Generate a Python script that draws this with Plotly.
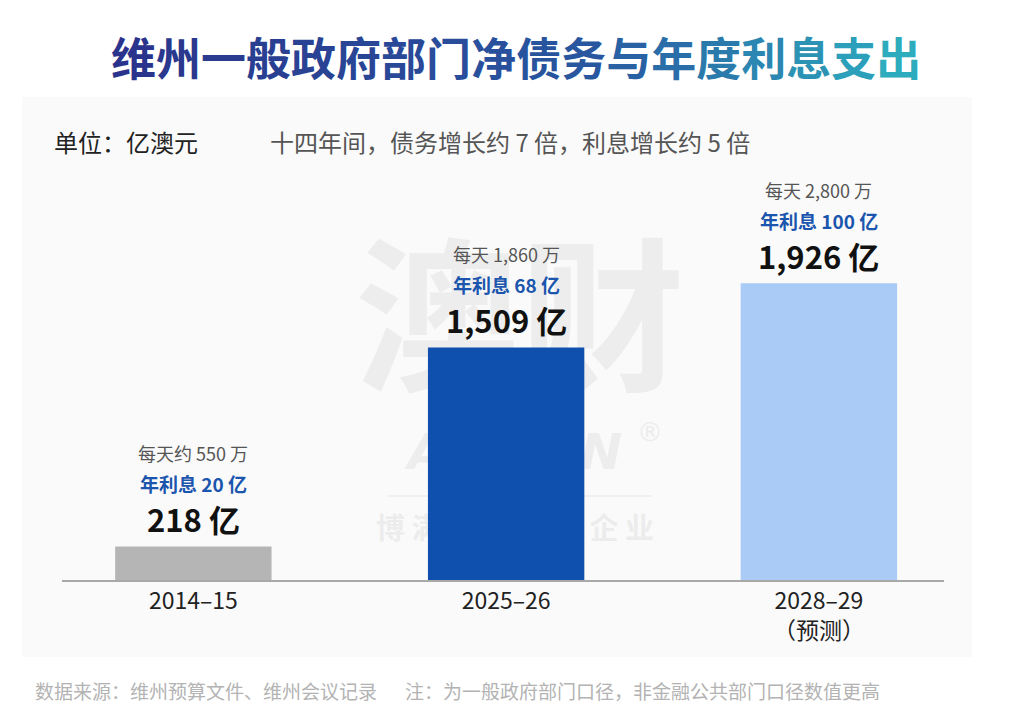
import plotly.graph_objects as go

# ---- data ----
categories = ["2014–15", "2025–26", "2028–29"]
tick_labels = ["2014–15", "2025–26", "2028–29<br>（预测）"]
net_debt = [218, 1509, 1926]          # 亿澳元
debt_labels = ["218 亿", "1,509 亿", "1,926 亿"]
interest_labels = ["年利息 20 亿", "年利息 68 亿", "年利息 100 亿"]
daily_labels = ["每天约 550 万", "每天 1,860 万", "每天 2,800 万"]
bar_colors = ["#b5b5b5", "#0f4fae", "#aacbf6"]

title_text = "维州一般政府部门净债务与年度利息支出"
unit_text = "单位：亿澳元"
subtitle_text = "十四年间，债务增长约 7 倍，利息增长约 5 倍"
source_text = "数据来源：维州预算文件、维州会议记录"
note_text = "注：为一般政府部门口径，非金融公共部门口径数值更高"

W, H = 1024, 727
L, R, T, B = 62, 944, 170, 580  # plot area in pixels
FONT = "Noto Sans CJK SC"


def px(x):
    return (x - L) / (R - L)


def py(y):
    return (B - y) / (B - T)


def grad_title(text):
    stops = [(0.0, (42, 52, 140)), (0.6, (40, 88, 160)), (1.0, (45, 172, 190))]
    out = []
    n = len(text)
    for i, ch in enumerate(text):
        t = i / (n - 1)
        for (t0, c0), (t1, c1) in zip(stops[:-1], stops[1:]):
            if t0 <= t <= t1:
                f = (t - t0) / (t1 - t0)
                c = tuple(int(round(a + (b - a) * f)) for a, b in zip(c0, c1))
                break
        out.append(f"<span style='color:rgb{c}'>{ch}</span>")
    return "".join(out)


fig = go.Figure()
fig.add_trace(go.Bar(
    x=categories, y=net_debt, marker=dict(color=bar_colors, line=dict(width=0)),
    width=0.5, hoverinfo="skip",
))

annotations = []
for cat, val, big, blue, gray in zip(categories, net_debt, debt_labels, interest_labels, daily_labels):
    annotations.append(dict(x=cat, y=val, xref="x", yref="y", text=big, showarrow=False,
                            yanchor="middle", yshift=28,
                            font=dict(family=FONT, size=31, color="#111111", weight="bold")))
    annotations.append(dict(x=cat, y=val, xref="x", yref="y", text=blue, showarrow=False,
                            yanchor="middle", yshift=63,
                            font=dict(family=FONT, size=19, color="#1b55ad", weight="bold")))
    annotations.append(dict(x=cat, y=val, xref="x", yref="y", text=gray, showarrow=False,
                            yanchor="middle", yshift=93,
                            font=dict(family=FONT, size=18, color="#555555")))

annotations += [
    dict(x=px(516), y=py(57), xref="paper", yref="paper", text=grad_title(title_text),
         showarrow=False, xanchor="center", yanchor="middle",
         font=dict(family=FONT, size=45, weight="bold")),
    dict(x=px(52), y=py(142), xref="paper", yref="paper", text=unit_text, showarrow=False,
         xanchor="left", yanchor="middle", font=dict(family=FONT, size=24, color="#222222")),
    dict(x=px(268), y=py(142), xref="paper", yref="paper", text=subtitle_text, showarrow=False,
         xanchor="left", yanchor="middle", font=dict(family=FONT, size=24, color="#555555")),
    dict(x=px(33), y=py(690), xref="paper", yref="paper", text=source_text, showarrow=False,
         xanchor="left", yanchor="middle", font=dict(family=FONT, size=19, color="#b3b3b3")),
    dict(x=px(403), y=py(690), xref="paper", yref="paper", text=note_text, showarrow=False,
         xanchor="left", yanchor="middle", font=dict(family=FONT, size=19, color="#b3b3b3")),
]

wm = "rgba(225,225,225,0.55)"
shapes = [
    dict(type="rect", xref="paper", yref="paper", x0=px(22), x1=px(972), y0=py(657), y1=py(97),
         fillcolor="#fafafa", line=dict(width=0), layer="below"),
    dict(type="rect", xref="paper", yref="paper", x0=px(340), x1=px(700), y0=py(420), y1=py(245),
         fillcolor="rgba(0,0,0,0)", line=dict(width=0), layer="below",
         label=dict(text="<b>澳财</b>", font=dict(family=FONT, size=165, color=wm),
                    textposition="middle center")),
    dict(type="rect", xref="paper", yref="paper", x0=px(390), x1=px(640), y0=py(470), y1=py(425),
         fillcolor="rgba(0,0,0,0)", line=dict(width=0), layer="below",
         label=dict(text="<b><i>ALL FIN</i></b>", font=dict(family="DejaVu Sans", size=50, color=wm),
                    textposition="middle center")),
    dict(type="rect", xref="paper", yref="paper", x0=px(635), x1=px(665), y0=py(445), y1=py(415),
         fillcolor="rgba(0,0,0,0)", line=dict(width=0), layer="below",
         label=dict(text="®", font=dict(family="DejaVu Sans", size=26, color=wm),
                    textposition="middle center")),
    dict(type="line", xref="paper", yref="paper", x0=px(387), x1=px(652), y0=py(496), y1=py(496),
         line=dict(width=1.5, color=wm), layer="below"),
    dict(type="rect", xref="paper", yref="paper", x0=px(350), x1=px(680), y0=py(550), y1=py(512),
         fillcolor="rgba(0,0,0,0)", line=dict(width=0), layer="below",
         label=dict(text="<b>博 满 集 团 旗 下 企 业</b>", font=dict(family=FONT, size=29, color=wm),
                    textposition="middle center")),
]

fig.update_layout(
    width=W, height=H,
    margin=dict(l=L, r=W - R, t=T, b=H - B),
    paper_bgcolor="white", plot_bgcolor="rgba(0,0,0,0)",
    showlegend=False,
    annotations=annotations, shapes=shapes,
    xaxis=dict(type="category", range=[-0.42, 2.40], tickvals=categories, ticktext=tick_labels,
               showline=True, linecolor="#a8a8a8", linewidth=1.5, ticks="", showgrid=False,
               tickfont=dict(family=FONT, size=23, color="#222222"), fixedrange=True),
    yaxis=dict(range=[0, 2660], visible=False, showgrid=False, zeroline=False, fixedrange=True),
    font=dict(family=FONT),
)

fig.write_html("out.html", config={"displayModeBar": False},
               post_script="document.body.style.margin='0';")
